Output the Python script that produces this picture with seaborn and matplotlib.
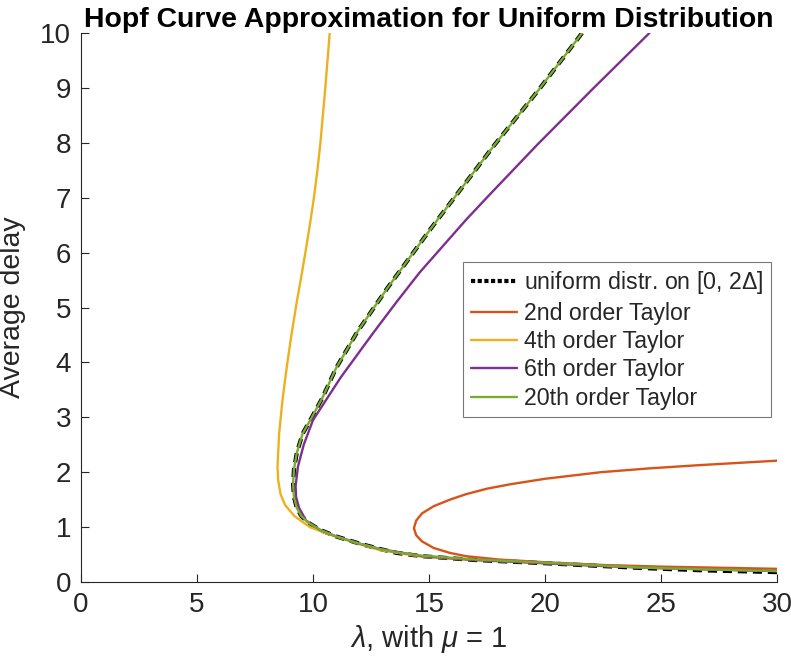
import matplotlib
matplotlib.use("Agg")
import matplotlib.pyplot as plt
import seaborn as sns

# Hopf curve for the uniform delay distribution on [0, 2*Delta]
exact_lam = [30.0, 27.0, 24.4, 22.0, 19.6, 17.0, 14.7, 13.6, 12.9, 12.0, 11.0, 10.3, 9.8, 9.5, 9.3,
             9.18, 9.14, 9.18, 9.3, 9.55, 9.95, 10.4, 11.0, 11.9, 13.2, 15.1, 16.0, 17.8, 19.7, 21.6]
exact_tau = [0.18, 0.21, 0.25, 0.30, 0.35, 0.40, 0.47, 0.53, 0.60, 0.70, 0.83, 0.95, 1.08, 1.20, 1.35,
             1.55, 1.80, 2.05, 2.35, 2.70, 3.00, 3.35, 3.90, 4.55, 5.35, 6.45, 6.95, 7.95, 8.95, 10.0]

# 2nd order Taylor approximation
t2_lam = [30.0, 26.7, 24.5, 22.4, 20.0, 18.5, 17.5, 16.6, 15.9, 15.2, 14.7, 14.45, 14.35,
          14.45, 14.7, 15.2, 15.9, 16.6, 18.0, 20.0, 22.5, 25.0, 27.5, 30.0]
t2_tau = [2.21, 2.13, 2.07, 2.00, 1.88, 1.78, 1.70, 1.60, 1.50, 1.38, 1.25, 1.12, 0.98,
          0.85, 0.74, 0.62, 0.53, 0.47, 0.41, 0.36, 0.31, 0.28, 0.26, 0.24]

# 4th order Taylor approximation
t4_lam = [30.0, 27.0, 24.4, 22.0, 19.6, 17.0, 14.7, 12.9, 12.0, 10.6, 9.87, 9.2, 8.8, 8.6, 8.5, 8.47,
          8.54, 8.68, 8.87, 9.07, 9.3, 9.51, 9.71, 9.88, 10.04, 10.19, 10.32, 10.53, 10.72]
t4_tau = [0.20, 0.23, 0.26, 0.30, 0.35, 0.40, 0.46, 0.58, 0.69, 0.88, 1.00, 1.20, 1.40, 1.60, 1.85, 2.10,
          2.70, 3.30, 3.92, 4.50, 5.10, 5.60, 6.10, 6.55, 7.00, 7.50, 8.00, 9.00, 10.0]

# 6th order Taylor approximation
t6_lam = [30.0, 27.0, 24.4, 22.0, 19.6, 17.0, 14.7, 12.9, 12.0, 11.0, 10.3, 9.7, 9.4, 9.27, 9.25,
          9.35, 9.6, 10.0, 11.2, 12.6, 13.6, 14.6, 15.6, 16.6, 17.6, 19.7, 22.1, 24.5]
t6_tau = [0.20, 0.23, 0.26, 0.30, 0.35, 0.40, 0.47, 0.60, 0.70, 0.83, 0.95, 1.12, 1.35, 1.55, 1.75,
          2.10, 2.50, 2.95, 3.73, 4.54, 5.10, 5.64, 6.12, 6.60, 7.05, 7.98, 9.00, 10.0]

# 20th order Taylor approximation
t20_lam = [30.0, 27.0, 24.4, 22.0, 19.6, 17.0, 14.7, 13.6, 12.9, 12.0, 11.0, 10.3, 9.8, 9.5, 9.3,
           9.18, 9.14, 9.18, 9.3, 9.55, 9.95, 10.4, 11.0, 11.9, 13.2, 15.1, 16.0, 17.8, 19.7, 21.6]
t20_tau = [0.20, 0.23, 0.26, 0.31, 0.36, 0.41, 0.48, 0.54, 0.60, 0.70, 0.83, 0.95, 1.08, 1.20, 1.35,
           1.55, 1.80, 2.05, 2.35, 2.70, 3.00, 3.35, 3.90, 4.55, 5.35, 6.45, 6.95, 7.95, 8.95, 10.0]

labels = ["uniform distr. on [0, 2$\\Delta$]", "2nd order Taylor", "4th order Taylor",
          "6th order Taylor", "20th order Taylor"]
colors = ["black", "#D95319", "#EDB120", "#7E2F8E", "#77AC30"]

x_ticks = [0, 5, 10, 15, 20, 25, 30]
y_ticks = [0, 1, 2, 3, 4, 5, 6, 7, 8, 9, 10]

sns.set_theme(style="ticks")
plt.rcParams["font.family"] = ["Liberation Sans", "DejaVu Sans"]
plt.rcParams["mathtext.fontset"] = "custom"
plt.rcParams["mathtext.it"] = "Liberation Sans:italic"
plt.rcParams["mathtext.rm"] = "Liberation Sans"

axis_gray = "#262626"

fig = plt.figure(figsize=(7.91, 6.58), dpi=100)
ax = fig.add_axes([0.1024, 0.1155, 0.8799, 0.8343])

series = [(exact_lam, exact_tau), (t2_lam, t2_tau), (t4_lam, t4_tau),
          (t6_lam, t6_tau), (t20_lam, t20_tau)]
for i, ((lx, ly), lab, col) in enumerate(zip(series, labels, colors)):
    if i == 0:
        sns.lineplot(x=lx, y=ly, sort=False, estimator=None, ax=ax, color=col,
                     linewidth=3.0, linestyle=(0, (2.2, 1.4)), label=lab)
    else:
        sns.lineplot(x=lx, y=ly, sort=False, estimator=None, ax=ax, color=col,
                     linewidth=1.7, label=lab)

ax.set_xlim(0, 30)
ax.set_ylim(0, 10)
ax.set_xticks(x_ticks)
ax.set_yticks(y_ticks)
ax.tick_params(direction="in", length=6, width=0.8, colors=axis_gray, labelsize=20,
               pad=7)
for side in ["top", "right"]:
    ax.spines[side].set_visible(False)
for side in ["left", "bottom"]:
    ax.spines[side].set_color(axis_gray)
    ax.spines[side].set_linewidth(0.8)

ax.set_xlabel("$\\lambda$, with $\\mu$ = 1", fontsize=21, color=axis_gray, labelpad=4)
ax.set_ylabel("Average delay", fontsize=20.5, color=axis_gray, labelpad=10)
ax.set_title("Hopf Curve Approximation for Uniform Distribution", fontsize=20.4,
             fontweight="bold", color="black", pad=3)

leg = ax.legend(loc="upper left", bbox_to_anchor=(0.549, 0.583), borderaxespad=0,
                fontsize=16.7, frameon=True, fancybox=False, handlelength=2.0,
                handletextpad=0.3, labelspacing=0.23, borderpad=0.32)
leg.get_frame().set_edgecolor("#555555")
leg.get_frame().set_linewidth(0.8)
leg.legend_handles[0].set_linestyle((0, (1.0, 0.6)))

fig.savefig("out.png", dpi=100)
